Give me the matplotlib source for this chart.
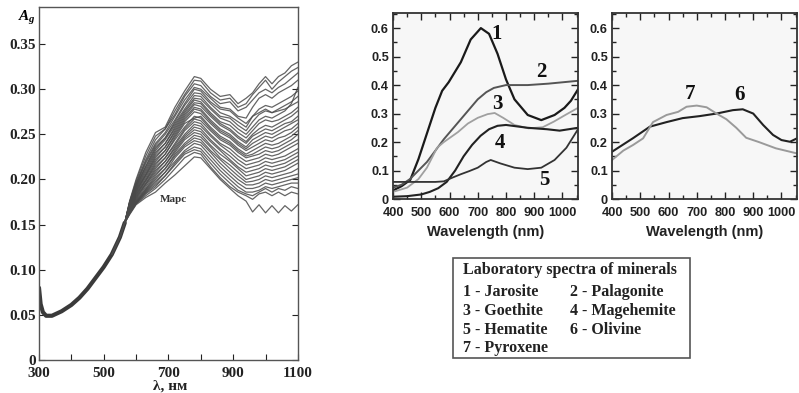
import numpy as np
import matplotlib.pyplot as plt
from matplotlib.patches import Rectangle

plt.rcParams['mathtext.fontset'] = 'custom'
plt.rcParams['mathtext.rm'] = 'Liberation Serif:bold'
plt.rcParams['mathtext.it'] = 'Liberation Serif:italic:bold'

# ----- Mars spectra (left) -----
# common part of all curves, 300..565 nm
base_wl = [300, 305, 312, 322, 340, 370, 400, 425, 450, 475, 500, 525, 550, 565]
base_ag = [0.080, 0.062, 0.053, 0.049, 0.049, 0.054, 0.061, 0.069, 0.079, 0.091,
           0.103, 0.117, 0.136, 0.152]

# individual curves from 580 nm on, in units of 0.001
mars_wl = [580, 600, 630, 660, 690, 720, 750, 780, 800, 830, 860, 890, 915, 940,
           960, 980, 1000, 1020, 1040, 1060, 1080, 1100]
mars_rows = [
    [176, 200, 230, 252, 258, 280, 298, 314, 312, 300, 292, 294, 284, 290, 296, 306, 314, 306, 314, 318, 326, 330],
    [175, 198, 226, 248, 256, 276, 294, 310, 309, 296, 288, 290, 280, 284, 294, 302, 310, 300, 308, 314, 320, 324],
    [175, 196, 222, 244, 256, 272, 292, 306, 304, 292, 284, 286, 276, 280, 288, 296, 300, 296, 302, 306, 312, 318],
    [174, 195, 220, 240, 252, 270, 288, 302, 300, 290, 280, 278, 270, 268, 280, 290, 294, 290, 296, 300, 304, 310],
    [174, 194, 218, 238, 250, 266, 284, 300, 298, 286, 278, 276, 268, 262, 270, 274, 278, 274, 276, 278, 282, 286],
    [173, 193, 215, 236, 246, 264, 282, 296, 295, 284, 274, 270, 264, 258, 270, 278, 282, 280, 284, 288, 292, 298],
    [173, 192, 214, 234, 246, 262, 278, 293, 292, 280, 270, 268, 260, 254, 264, 272, 276, 274, 278, 282, 286, 292],
    [172, 191, 212, 232, 244, 260, 276, 290, 289, 278, 268, 264, 256, 250, 258, 266, 270, 268, 272, 276, 284, 302],
    [172, 190, 210, 230, 240, 258, 274, 288, 286, 274, 264, 260, 252, 246, 254, 262, 266, 264, 266, 270, 274, 280],
    [171, 189, 208, 228, 240, 256, 272, 285, 284, 272, 262, 256, 248, 242, 250, 256, 260, 258, 262, 266, 270, 276],
    [171, 188, 206, 226, 236, 254, 270, 283, 281, 270, 260, 254, 246, 240, 248, 252, 256, 254, 258, 262, 264, 270],
    [170, 187, 205, 224, 236, 252, 268, 280, 278, 266, 256, 250, 242, 236, 244, 248, 252, 250, 254, 258, 262, 266],
    [170, 186, 204, 222, 232, 250, 266, 278, 276, 264, 254, 248, 240, 234, 240, 244, 248, 246, 250, 254, 256, 262],
    [169, 185, 202, 220, 232, 248, 264, 275, 273, 262, 252, 246, 238, 232, 236, 240, 244, 242, 246, 248, 252, 258],
    [169, 184, 200, 218, 228, 246, 262, 268, 270, 258, 248, 242, 234, 228, 232, 236, 240, 238, 240, 244, 248, 254],
    [168, 183, 199, 216, 228, 244, 258, 270, 268, 256, 246, 240, 232, 226, 228, 232, 236, 234, 236, 240, 244, 250],
    [168, 182, 198, 214, 224, 240, 256, 267, 265, 254, 244, 238, 230, 224, 226, 228, 232, 230, 232, 236, 240, 244],
    [167, 181, 196, 212, 224, 238, 254, 264, 262, 250, 240, 234, 226, 220, 222, 224, 228, 226, 228, 232, 236, 240],
    [167, 180, 195, 210, 220, 236, 250, 261, 259, 248, 238, 230, 222, 216, 218, 220, 224, 222, 224, 226, 230, 234],
    [166, 179, 194, 208, 220, 234, 248, 258, 256, 244, 234, 226, 218, 212, 214, 216, 220, 218, 220, 222, 226, 230],
    [166, 178, 192, 206, 216, 232, 246, 255, 253, 242, 232, 222, 214, 208, 210, 212, 216, 214, 216, 218, 222, 226],
    [165, 177, 190, 204, 216, 230, 244, 252, 250, 238, 228, 220, 212, 204, 206, 208, 212, 210, 212, 214, 218, 222],
    [165, 176, 189, 202, 212, 228, 240, 249, 247, 236, 224, 216, 208, 200, 202, 204, 208, 206, 208, 210, 214, 218],
    [164, 175, 188, 200, 212, 226, 238, 246, 244, 232, 222, 212, 204, 197, 198, 200, 204, 202, 204, 206, 208, 212],
    [164, 175, 187, 198, 208, 224, 236, 243, 241, 230, 218, 208, 200, 194, 194, 196, 200, 198, 200, 202, 204, 206],
    [163, 174, 186, 196, 208, 220, 232, 240, 238, 226, 214, 204, 196, 190, 190, 192, 196, 194, 196, 198, 200, 202],
    [163, 174, 185, 194, 204, 218, 230, 236, 234, 222, 210, 200, 192, 186, 186, 188, 192, 190, 192, 194, 196, 196],
    [162, 173, 184, 192, 204, 216, 228, 233, 231, 218, 206, 196, 188, 184, 182, 186, 190, 186, 190, 188, 192, 190],
    [162, 173, 182, 190, 200, 212, 224, 230, 228, 214, 202, 192, 186, 182, 178, 184, 186, 182, 186, 182, 186, 184],
    [161, 172, 180, 186, 196, 205, 215, 225, 224, 212, 200, 190, 182, 176, 164, 172, 163, 171, 163, 171, 165, 172],
]

# ----- Laboratory spectra (right) -----
wl1 = [400, 430, 461, 490, 520, 550, 574, 597, 640, 675, 711, 740, 770, 800, 830, 877, 925, 972, 1007, 1030, 1055]
r1 = [0.030, 0.045, 0.067, 0.140, 0.230, 0.320, 0.380, 0.410, 0.480, 0.560, 0.600, 0.580, 0.510, 0.420, 0.350, 0.295, 0.277, 0.295, 0.320, 0.345, 0.385]
wl2 = [400, 430, 460, 490, 520, 550, 580, 610, 640, 670, 700, 730, 757, 800, 877, 950, 1055]
r2 = [0.040, 0.050, 0.070, 0.100, 0.130, 0.170, 0.210, 0.245, 0.280, 0.315, 0.350, 0.375, 0.390, 0.400, 0.400, 0.405, 0.415]
wl3 = [400, 450, 490, 520, 556, 580, 630, 665, 700, 735, 760, 790, 830, 880, 930, 970, 1010, 1055]
r3 = [0.025, 0.040, 0.070, 0.110, 0.180, 0.200, 0.235, 0.265, 0.285, 0.298, 0.302, 0.285, 0.260, 0.248, 0.252, 0.272, 0.295, 0.320]
wl4 = [400, 450, 500, 530, 560, 590, 620, 650, 680, 710, 740, 770, 800, 877, 945, 990, 1055]
r4 = [0.008, 0.010, 0.016, 0.025, 0.038, 0.060, 0.100, 0.150, 0.190, 0.222, 0.245, 0.257, 0.260, 0.250, 0.245, 0.240, 0.250]
wl5 = [400, 450, 500, 550, 580, 610, 640, 670, 700, 730, 746, 780, 830, 877, 925, 972, 1014, 1055]
r5 = [0.060, 0.060, 0.060, 0.060, 0.062, 0.075, 0.087, 0.098, 0.110, 0.130, 0.137, 0.125, 0.110, 0.105, 0.110, 0.137, 0.180, 0.245]
wl6 = [400, 475, 534, 593, 650, 710, 770, 828, 863, 900, 935, 970, 1000, 1030, 1055]
r6 = [0.166, 0.214, 0.254, 0.270, 0.284, 0.291, 0.300, 0.312, 0.315, 0.300, 0.260, 0.225, 0.207, 0.201, 0.213]
wl7 = [400, 440, 475, 510, 545, 593, 634, 664, 700, 735, 770, 805, 840, 875, 920, 980, 1055]
r7 = [0.137, 0.170, 0.190, 0.213, 0.270, 0.295, 0.306, 0.324, 0.328, 0.322, 0.300, 0.280, 0.250, 0.215, 0.200, 0.178, 0.160]

legend_title = 'Laboratory spectra of minerals'
legend_items = ['1 - Jarosite', '2 - Palagonite', '3 - Goethite', '4 - Magehemite',
                '5 - Hematite', '6 - Olivine', '7 - Pyroxene']

serif = 'Liberation Serif'
sans = 'Liberation Sans'

fig = plt.figure(figsize=(7.99, 3.93), dpi=100)

# ----- left panel -----
ax = fig.add_axes([0.0488, 0.084, 0.324, 0.898])
ax.plot(base_wl, base_ag, color='#3a3a3a', lw=3.0, solid_capstyle='round')
for row in mars_rows:
    x = base_wl[-3:] + mars_wl
    y = base_ag[-3:] + [v / 1000 for v in row]
    ax.plot(x, y, color='#4a4a4a', lw=0.9, alpha=0.85)
ax.set_xlim(300, 1100)
ax.set_ylim(0, 0.391)
ax.set_xticks([300, 500, 700, 900, 1100])
ax.set_xticks([400, 600, 800, 1000], minor=True)
ax.set_yticks([0, 0.05, 0.10, 0.15, 0.20, 0.25, 0.30, 0.35])
ax.set_yticklabels(['0', '0.05', '0.10', '0.15', '0.20', '0.25', '0.30', '0.35'])
ax.tick_params(which='both', direction='in', right=True, length=4, width=0.8,
               labelsize=11, colors='#222222')
ax.tick_params(axis='y', pad=2)
ax.tick_params(axis='x', pad=5)
for lab in ax.get_xticklabels() + ax.get_yticklabels():
    lab.set_fontfamily(serif)
    lab.set_fontweight('bold')
for s in ax.spines.values():
    s.set_color('#555555')
    s.set_linewidth(1.0)
ax.text(672, 0.178, 'Марс', family=serif, fontweight='bold', fontsize=8,
        va='center', ha='left', color='#333333')
fig.text(0.023, 0.953, r'$A_g$', fontsize=11, ha='left', va='center')
fig.text(0.213, 0.018, 'λ, нм', family=serif, fontweight='bold', fontsize=11,
         ha='center', va='center', color='#222222')


def lab_panel(rect):
    a = fig.add_axes(rect, facecolor='#f7f7f7')
    a.set_xlim(400, 1055)
    a.set_ylim(0, 0.653)
    a.set_xticks(range(400, 1001, 100))
    a.set_xticks(range(450, 1051, 100), minor=True)
    a.set_yticks([0, 0.1, 0.2, 0.3, 0.4, 0.5, 0.6])
    a.set_yticklabels(['0', '0.1', '0.2', '0.3', '0.4', '0.5', '0.6'])
    a.set_yticks([0.05, 0.15, 0.25, 0.35, 0.45, 0.55, 0.65], minor=True)
    a.tick_params(which='both', direction='in', top=True, right=True,
                  width=1.0, labelsize=9.2, colors='#222222')
    a.tick_params(axis='y', pad=3)
    a.tick_params(axis='x', pad=6)
    a.tick_params(which='major', length=5)
    a.tick_params(which='minor', length=3)
    for lab in a.get_xticklabels() + a.get_yticklabels():
        lab.set_fontfamily(sans)
        lab.set_fontweight('bold')
    for s in a.spines.values():
        s.set_color('#333333')
        s.set_linewidth(1.3)
    a.set_xlabel('Wavelength (nm)', family=sans, fontweight='bold', fontsize=10.5,
                 labelpad=4, color='#222222')
    return a


axA = lab_panel([0.4919, 0.4936, 0.2315, 0.4733])
axA.plot(wl1, r1, color='#1a1a1a', lw=1.6)
axA.plot(wl2, r2, color='#555555', lw=1.4)
axA.plot(wl3, r3, color='#a0a0a0', lw=1.3)
axA.plot(wl4, r4, color='#222222', lw=1.5)
axA.plot(wl5, r5, color='#333333', lw=1.3)
for t, xx, yy in [('1', 765, 0.58), ('2', 925, 0.445), ('3', 770, 0.335),
                  ('4', 780, 0.195), ('5', 935, 0.065)]:
    axA.text(xx, yy, t, family=serif, fontweight='bold', fontsize=15,
             ha='center', va='center', color='#111111')

axB = lab_panel([0.766, 0.4936, 0.2315, 0.4733])
axB.plot(wl6, r6, color='#222222', lw=1.5)
axB.plot(wl7, r7, color='#9a9a9a', lw=1.4)
for t, xx, yy in [('7', 675, 0.37), ('6', 850, 0.365)]:
    axB.text(xx, yy, t, family=serif, fontweight='bold', fontsize=15,
             ha='center', va='center', color='#111111')

# ----- legend box -----
fig.patches.append(Rectangle((0.567, 0.089), 0.2966, 0.2545, transform=fig.transFigure,
                             fill=False, edgecolor='#555555', lw=1.2))
W, H = 799, 393
fig.text(463 / W, 1 - 270 / H, legend_title, family=serif, fontweight='bold',
         fontsize=11.5, ha='left', va='center', color='#222222')
rows_y = [292, 311, 330, 348]
for i, item in enumerate(legend_items):
    xx = 463 if i % 2 == 0 else 570
    yy = rows_y[i // 2]
    fig.text(xx / W, 1 - yy / H, item, family=serif, fontweight='bold',
             fontsize=11.5, ha='left', va='center', color='#222222')

fig.savefig('out.png', dpi=100)
